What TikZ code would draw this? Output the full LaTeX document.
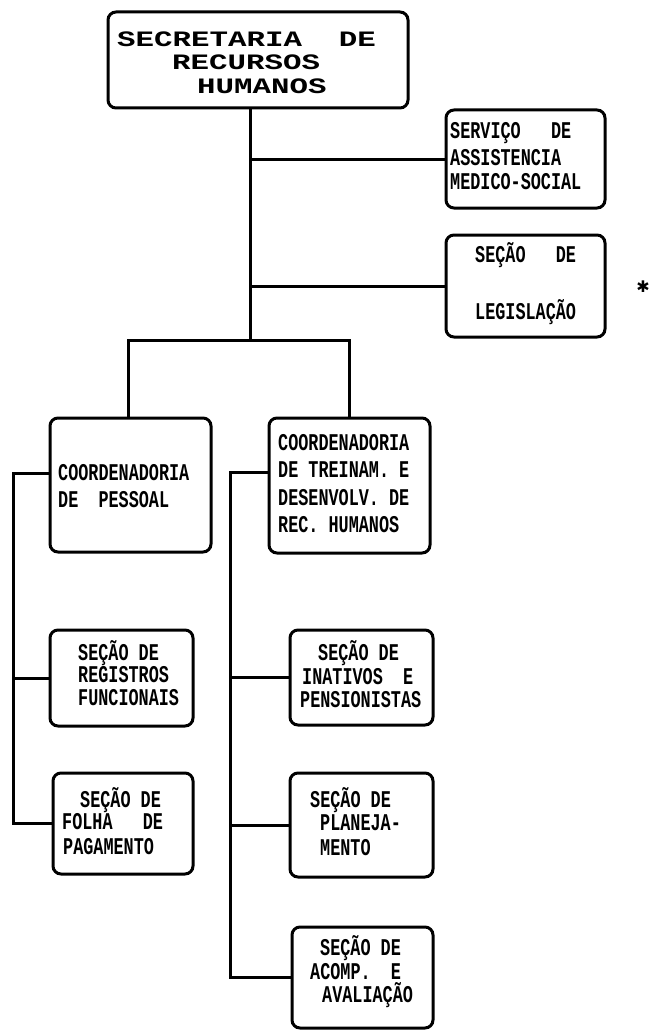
\documentclass[tikz,border=0pt]{standalone}
\usepackage{fontspec}
\newfontfamily\boxfont{Liberation Mono}[FakeStretch=0.7]
\newfontfamily\topfont{Liberation Mono}[FakeStretch=1.4]
\newfontfamily\starfont{DejaVu Sans}
\begin{document}
\begin{tikzpicture}[x=1pt,y=-1pt,
  orgbox/.style={draw=black, line width=3pt, rounded corners=8pt, inner sep=0pt, outer sep=0pt},
  wire/.style={draw=black, line width=3pt},
  toptext/.style={anchor=base west, inner sep=0pt, font=\topfont\bfseries\fontsize{22}{22}\selectfont\frenchspacing},
  lbl/.style={anchor=base west, inner sep=0pt, font=\boxfont\bfseries\fontsize{24}{24}\selectfont\frenchspacing}
]
\useasboundingbox (0,0) rectangle (649,1030);

% boxes
\node[orgbox, minimum width=300pt, minimum height=96pt] (top) at (258,60) {};
\node[orgbox, minimum width=159pt, minimum height=98pt] (svc) at (525.5,159) {};
\node[orgbox, minimum width=159pt, minimum height=102pt] (leg) at (525.5,286) {};
\node[orgbox, minimum width=161pt, minimum height=134pt] (pes) at (130.5,485) {};
\node[orgbox, minimum width=161pt, minimum height=135pt] (tre) at (349.5,485.5) {};
\node[orgbox, minimum width=143pt, minimum height=96pt] (reg) at (121.5,678) {};
\node[orgbox, minimum width=140pt, minimum height=101pt] (fol) at (123,823.5) {};
\node[orgbox, minimum width=143pt, minimum height=95pt] (ina) at (361.5,677.5) {};
\node[orgbox, minimum width=143pt, minimum height=104pt] (pla) at (361.5,825) {};
\node[orgbox, minimum width=141pt, minimum height=101pt] (ava) at (362.5,977.5) {};

% junction coordinates
\coordinate (hb) at (250,340);
\coordinate (hl) at (128,340);
\coordinate (hr) at (349,340);
\coordinate (vl1) at (13,473);
\coordinate (vl2) at (13,823.5);
\coordinate (vr1) at (230,472);
\coordinate (vr2) at (230,977.5);

% connectors
\draw[wire] (top.south -| hb) -- (hb);
\draw[wire] (hb |- svc.west) -- (svc.west);
\draw[wire] (hb |- leg.west) -- (leg.west);
\draw[wire] (pes.north -| hl) -- (hl) -- (hr) -- (tre.north -| hr);
\draw[wire] (vl1 -| pes.west) -- (vl1) -- (vl2) -- (fol.west);
\draw[wire] (reg.west) -- (reg.west -| vl1);
\draw[wire] (vr1 -| tre.west) -- (vr1) -- (vr2) -- (ava.west);
\draw[wire] (ina.west) -- (ina.west -| vr1);
\draw[wire] (pla.west) -- (pla.west -| vr1);

% texts
\node[toptext] (ta) at (117,47) {SECRETARIA~~DE};
\node[toptext] (tb) at (172,70) {RECURSOS};
\node[toptext] (tc) at (197,94) {HUMANOS};

\node[lbl] (sa) at (450,139) {SERVIÇO~~~DE};
\node[lbl] (sb) at (450,165) {ASSISTENCIA};
\node[lbl] (sc) at (450,189) {MEDICO-SOCIAL};

\node[lbl] (la) at (475,262) {SEÇÃO~~~DE};
\node[lbl] (lb) at (475,319) {LEGISLAÇÃO};

\node[lbl] (pa) at (58,480) {COORDENADORIA};
\node[lbl] (pb) at (58,507) {DE~~PESSOAL};

\node[lbl] (ea) at (278,450) {COORDENADORIA};
\node[lbl] (eb) at (278,477) {DE TREINAM. E};
\node[lbl] (ec) at (278,505) {DESENVOLV. DE};
\node[lbl] (ed) at (278,532) {REC. HUMANOS};

\node[lbl] (ra) at (78,660) {SEÇÃO DE};
\node[lbl] (rb) at (78,682) {REGISTROS};
\node[lbl] (rc) at (78,705) {FUNCIONAIS};

\node[lbl] (fa) at (80,807) {SEÇÃO DE};
\node[lbl] (fb) at (62,829) {FOLHA~~~DE};
\node[lbl] (fc) at (63,854) {PAGAMENTO};

\node[lbl] (ia) at (318,660) {SEÇÃO DE};
\node[lbl] (ib) at (302,684) {INATIVOS~~E};
\node[lbl] (ic) at (300,707) {PENSIONISTAS};

\node[lbl] (na) at (310,807) {SEÇÃO DE};
\node[lbl] (nb) at (320,830) {PLANEJA-};
\node[lbl] (nc) at (320,855) {MENTO};

\node[lbl] (aa) at (320,955) {SEÇÃO DE};
\node[lbl] (ab) at (310,979) {ACOMP.~~E};
\node[lbl] (ac) at (322,1002) {AVALIAÇÃO};

\node[inner sep=0pt, font=\starfont\bfseries\fontsize{16}{16}\selectfont] (star) at (643,287) {✱};
\end{tikzpicture}
\end{document}
